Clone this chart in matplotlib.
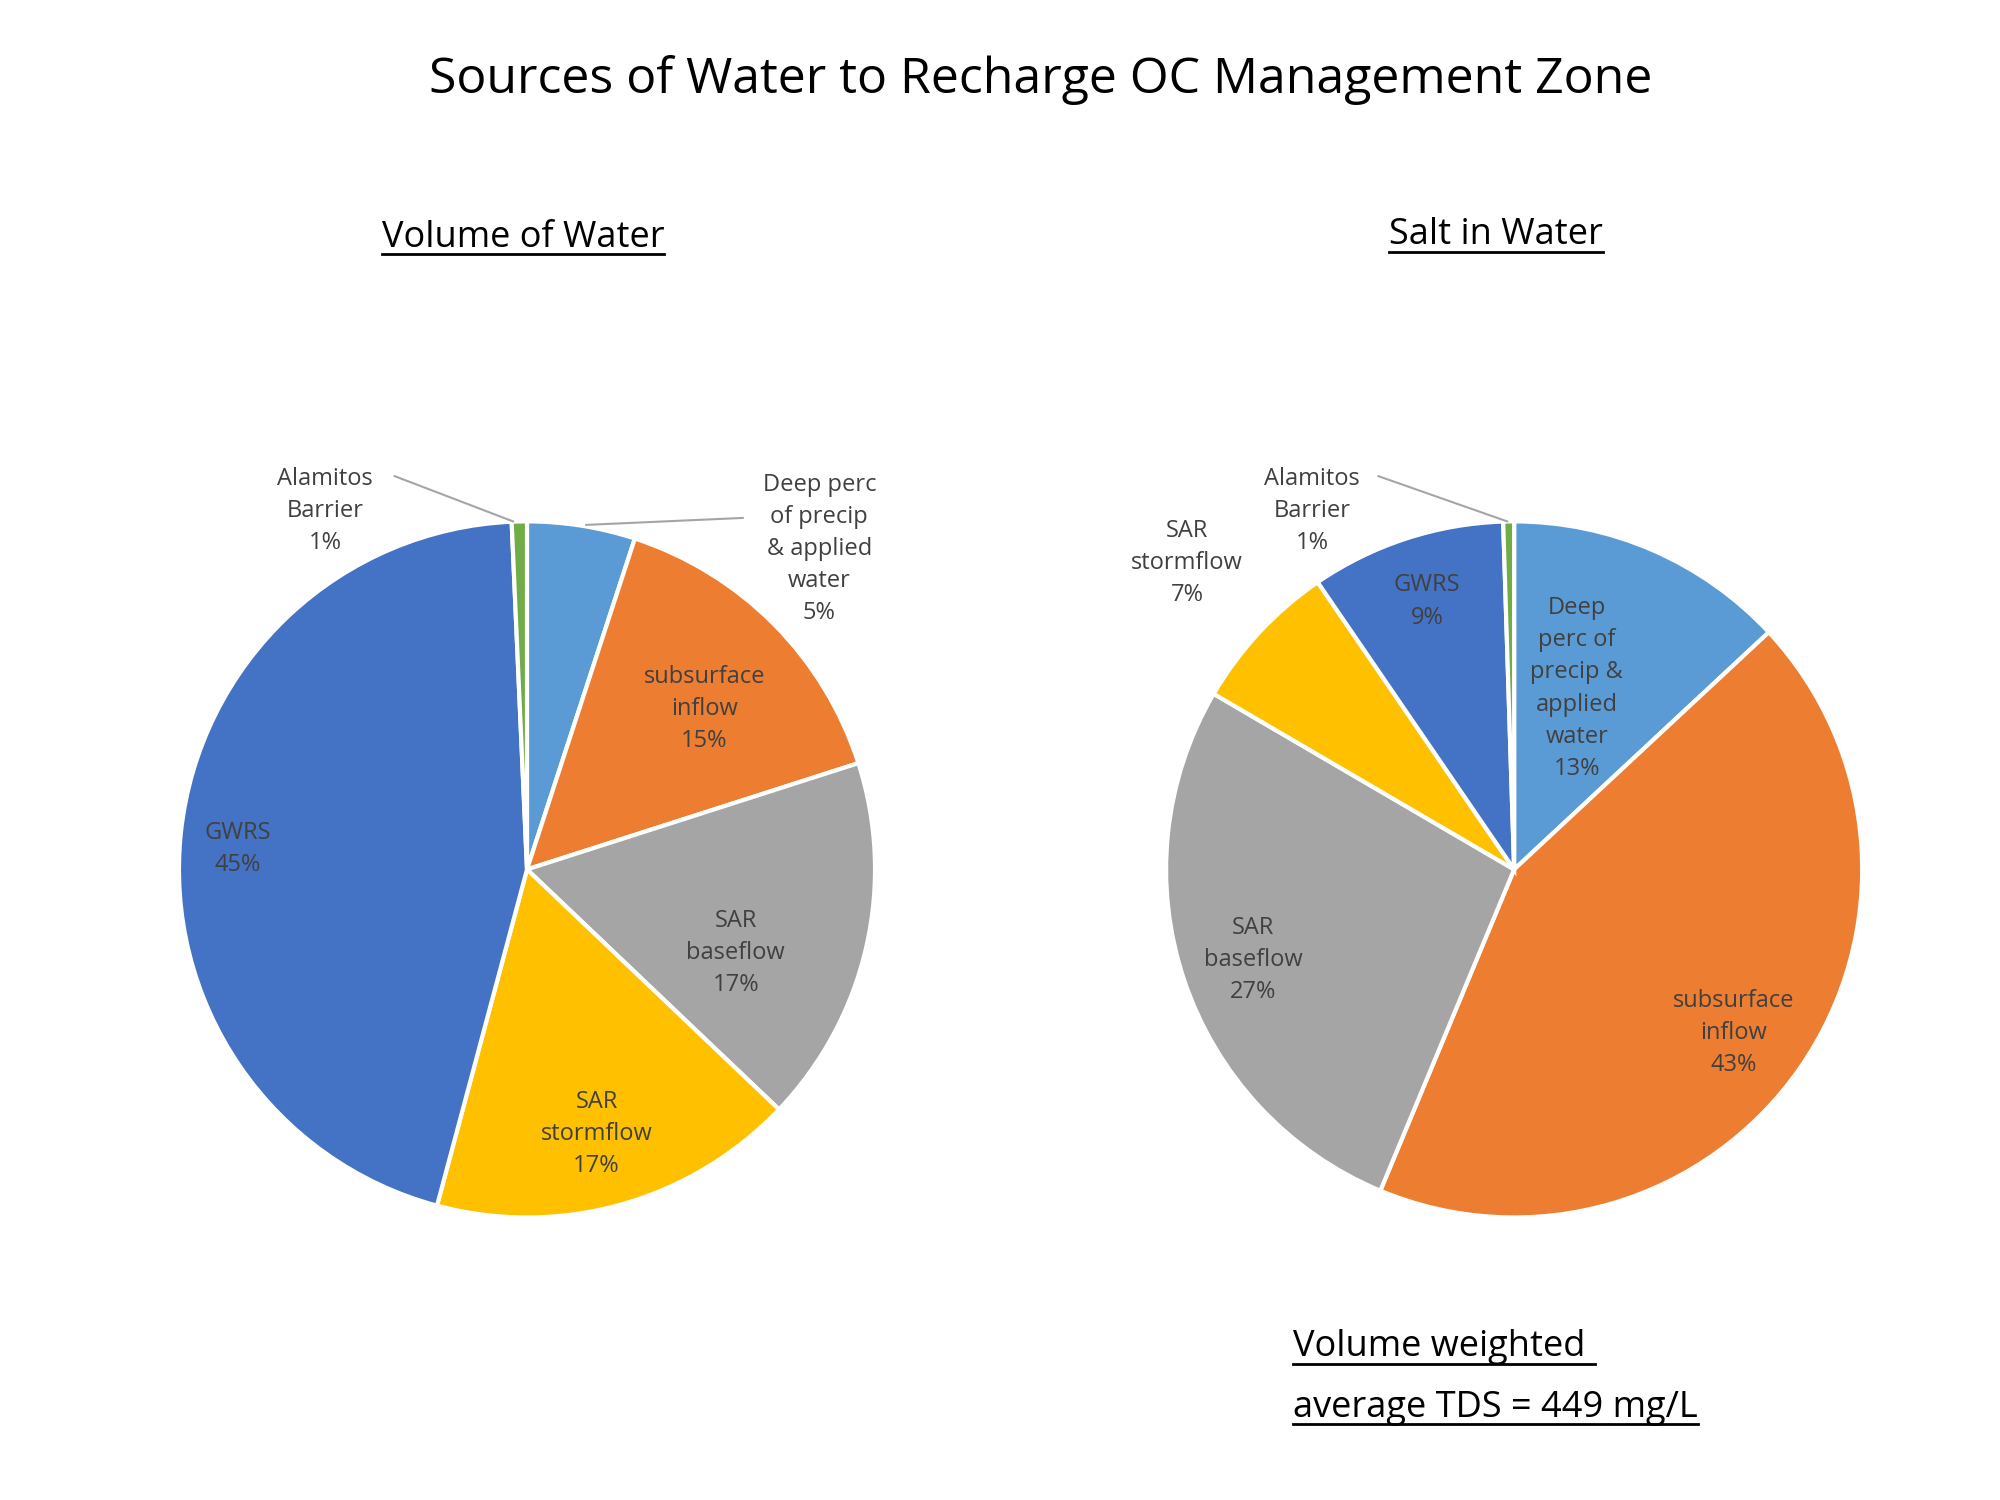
import matplotlib
matplotlib.use("Agg")
import matplotlib.pyplot as plt

plt.rcParams['font.family'] = ['Open Sans', 'DejaVu Sans']

categories = ['Deep perc of precip & applied water', 'subsurface inflow', 'SAR baseflow',
              'SAR stormflow', 'GWRS', 'Alamitos Barrier']
colors = ['#5B9BD5', '#ED7D31', '#A5A5A5', '#FFC000', '#4472C4', '#70AD47']

volume = [5, 15, 17, 17, 45, 0.7]
salt = [13, 43, 27, 7, 9, 0.5]

vol_labels = ['Deep perc\nof precip\n& applied\nwater\n5%', 'subsurface\ninflow\n15%',
              'SAR\nbaseflow\n17%', 'SAR\nstormflow\n17%', 'GWRS\n45%', 'Alamitos\nBarrier\n1%']
salt_labels = ['Deep\nperc of\nprecip &\napplied\nwater\n13%', 'subsurface\ninflow\n43%',
               'SAR\nbaseflow\n27%', 'SAR\nstormflow\n7%', 'GWRS\n9%', 'Alamitos\nBarrier\n1%']

# label positions in pie units (radius 1)
vol_pos = [(0.84, 0.92), (0.51, 0.46), (0.60, -0.24), (0.20, -0.76), (-0.83, 0.06), (-0.58, 1.03)]
salt_pos = [(0.18, 0.52), (0.63, -0.47), (-0.75, -0.26), (-0.94, 0.88), (-0.25, 0.77), (-0.58, 1.03)]
vol_leaders = {0: [(0.17, 0.99), (0.62, 1.01)], 5: [(-0.04, 1.0), (-0.38, 1.13)]}
salt_leaders = {5: [(-0.02, 1.0), (-0.39, 1.13)]}

fig = plt.figure(figsize=(20, 15), dpi=100)
W, H = 1556, 1168


def draw_pie(cx, vals, labels, pos, leaders):
    r = 271
    ax = fig.add_axes([(cx - r) / W, (H - 677 - r) / H, 2 * r / W, 2 * r / H])
    ax.pie(vals, colors=colors, startangle=90, counterclock=False,
           wedgeprops=dict(edgecolor='white', linewidth=3))
    ax.set_xlim(-1, 1)
    ax.set_ylim(-1, 1)
    for lab, (x, y) in zip(labels, pos):
        ax.text(x, y, lab, ha='center', va='center', fontsize=17, color='#404040',
                linespacing=1.45, clip_on=False)
    for (x0, y0), (x1, y1) in leaders.values():
        ax.plot([x0, x1], [y0, y1], color='#A5A5A5', lw=1.5, clip_on=False)


draw_pie(410, volume, vol_labels, vol_pos, vol_leaders)
draw_pie(1178, salt, salt_labels, salt_pos, salt_leaders)

fig.text(810 / W, 1 - 62 / H, 'Sources of Water to Recharge OC Management Zone',
         ha='center', va='center', fontsize=36)

underlined = []
underlined.append(fig.text(407 / W, 1 - 185 / H, 'Volume of Water', ha='center', va='center', fontsize=26))
underlined.append(fig.text(1164 / W, 1 - 183 / H, 'Salt in Water', ha='center', va='center', fontsize=26))
underlined.append(fig.text(1006 / W, 1 - 1049 / H, 'Volume weighted ', ha='left', va='center', fontsize=26))
underlined.append(fig.text(1006 / W, 1 - 1096 / H, 'average TDS = 449 mg/L', ha='left', va='center', fontsize=26))

fig.canvas.draw()
renderer = fig.canvas.get_renderer()
for t in underlined:
    bb = t.get_window_extent(renderer).transformed(fig.transFigure.inverted())
    y = bb.y0 + 0.001
    fig.add_artist(plt.Line2D([bb.x0, bb.x1], [y, y], color='black', lw=2, transform=fig.transFigure))

fig.savefig('out.png', facecolor='white')
